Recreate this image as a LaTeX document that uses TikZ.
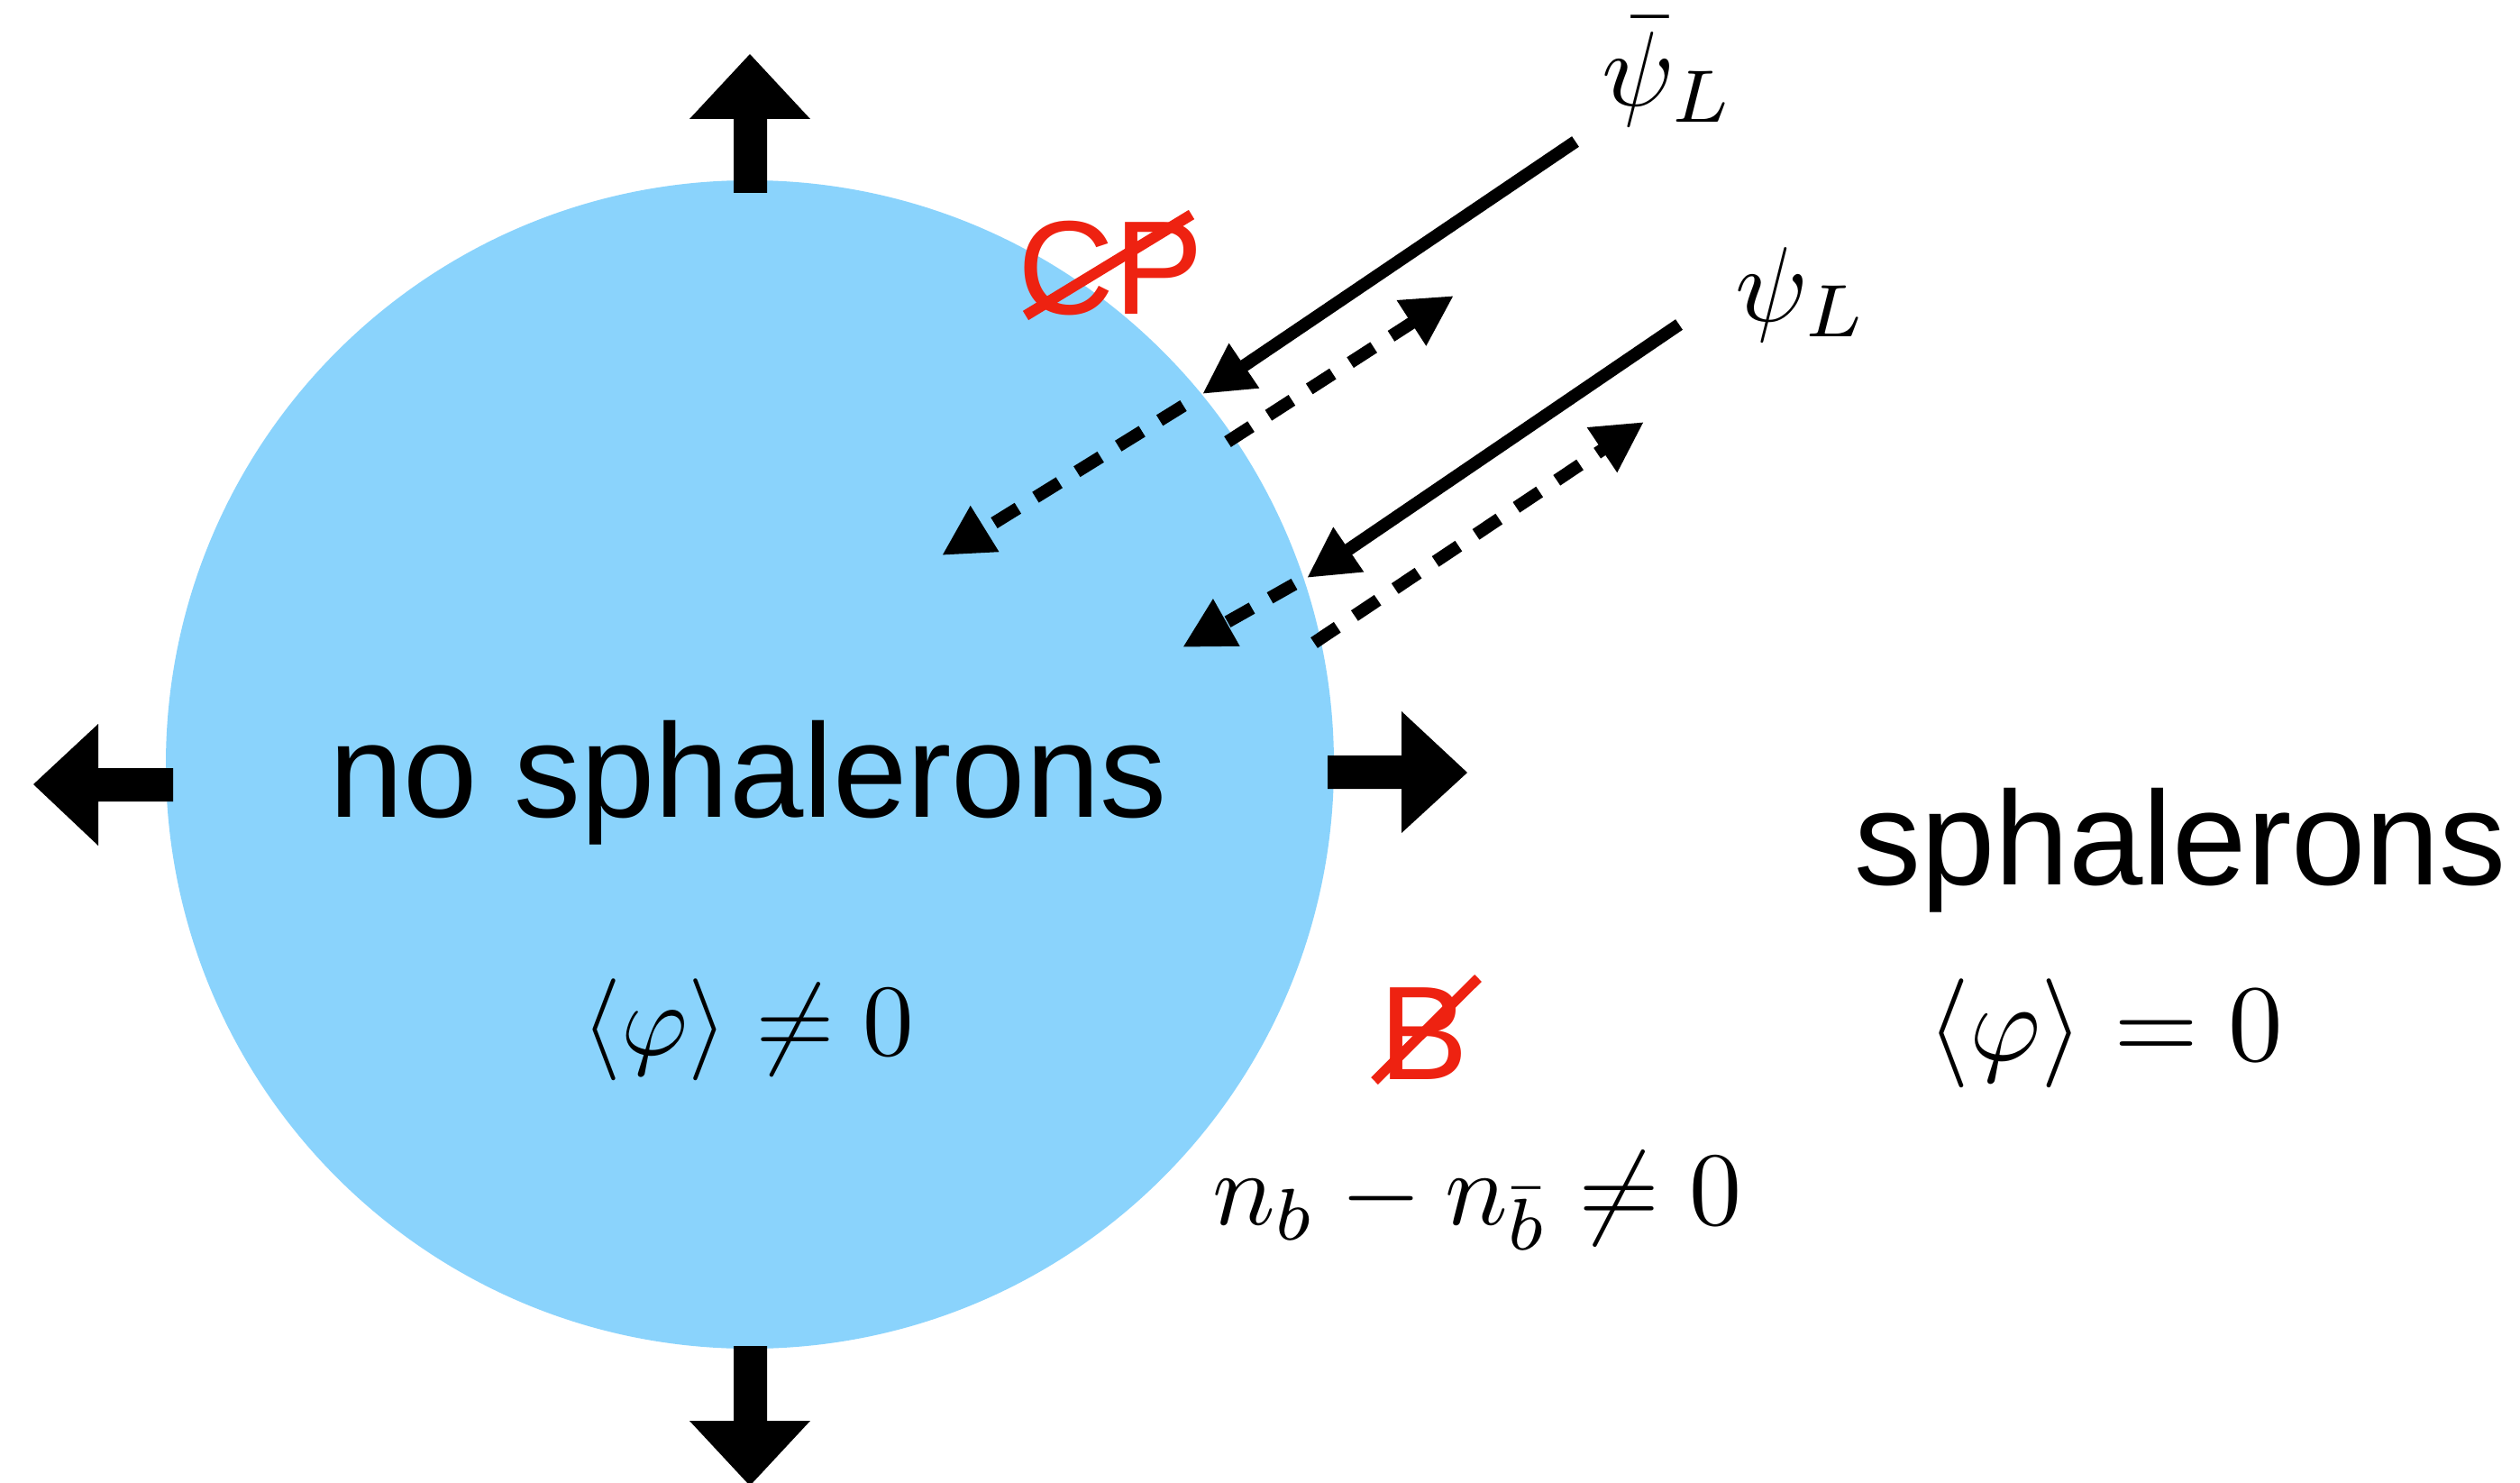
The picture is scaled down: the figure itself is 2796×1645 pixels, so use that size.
\documentclass[tikz,border=0pt]{standalone}
\usepackage[no-math]{fontspec}
\newfontfamily\helv{Liberation Sans}
\usetikzlibrary{arrows.meta}
\definecolor{bubble}{RGB}{138,211,252}
\definecolor{cpred}{RGB}{238,34,17}
\begin{document}
\begin{tikzpicture}[x=1pt,y=-1pt,
  txt/.style={font=\helv\fontsize{148}{170}\selectfont, inner sep=0pt},
  mth/.style={font=\fontsize{10}{12}\selectfont, inner sep=0pt, scale=11.8},
  blockarrow/.style={fill=black},
  solidarr/.style={line width=14pt, line cap=butt, -{Triangle[length=56pt,width=56pt]}},
  dasharr/.style={line width=14pt, line cap=butt, dash pattern=on 31pt off 23pt, -{Triangle[length=56pt,width=56pt]}},
  strike/.style={draw=cpred, line width=12pt}]
\useasboundingbox (0,0) rectangle (2796,1645);
\fill[white] (0,0) rectangle (2796,1645);
% bubble
\node[circle, fill=bubble, minimum size=1296pt, inner sep=0pt] (bubble) at (832,848) {};
% expansion arrows
\fill[blockarrow] (814,214) -- (814,132) -- (765,132) -- (832,60) -- (899,132) -- (851,132) -- (851,214) -- cycle;
\fill[blockarrow] (814,1493) -- (814,1576) -- (765,1576) -- (832,1648) -- (899,1576) -- (851,1576) -- (851,1493) -- cycle;
\fill[blockarrow] (192,852) -- (109,852) -- (109,803) -- (37,870) -- (109,938) -- (109,889) -- (192,889) -- cycle;
\fill[blockarrow] (1473,838) -- (1555,838) -- (1555,789) -- (1628,857) -- (1555,924) -- (1555,875) -- (1473,875) -- cycle;
% particle arrows
\coordinate (a1s) at (1748,157);
\coordinate (a1e) at (1334,437);
\coordinate (a2s) at (1863,360);
\coordinate (a2e) at (1450,641);
\coordinate (t1s) at (1313,450);
\coordinate (t1e) at (1045,616);
\coordinate (r1s) at (1362,490);
\coordinate (r1e) at (1613,328);
\coordinate (t2s) at (1436,648);
\coordinate (t2e) at (1312,718);
\coordinate (r2s) at (1458,713);
\coordinate (r2e) at (1824,468);
\draw[solidarr] (a1s) -- (a1e);
\draw[solidarr] (a2s) -- (a2e);
\draw[dasharr] (t1s) -- (t1e);
\draw[dasharr] (r1s) -- (r1e);
\draw[dasharr] (t2s) -- (t2e);
\draw[dasharr] (r2s) -- (r2e);
% labels
\node[mth, anchor=base west] (psibar) at (1775,118) {$\bar\psi_L$};
\node[mth, anchor=base west] (psi) at (1923,356) {$\psi_L$};
\node[txt, text=cpred, anchor=base west] (cp) at (1129,348) {CP};
\coordinate (cps) at (1138,350);
\coordinate (cpe) at (1322,238);
\draw[strike] (cps) -- (cpe);
\node[txt, anchor=base] (nosph) at (830,906) {no sphalerons};
\node[txt, anchor=base] (sph) at (2419,981) {sphalerons};
\node[mth, scale=11.3/11.8, anchor=base] (vevin) at (830,1170) {$\langle\varphi\rangle\neq 0$};
\node[mth, scale=12.1/11.8, anchor=base] (vevout) at (2336,1176) {$\langle\varphi\rangle = 0$};
\node[txt, text=cpred, anchor=base west] (bnum) at (1530,1197) {B};
\coordinate (bs) at (1525,1199);
\coordinate (be) at (1640,1085);
\draw[strike, line width=11pt] (bs) -- (be);
\node[mth, scale=11.6/11.8, anchor=base west] (asym) at (1343,1358) {$n_b - n_{\bar b}\neq 0$};
\end{tikzpicture}
\end{document}
